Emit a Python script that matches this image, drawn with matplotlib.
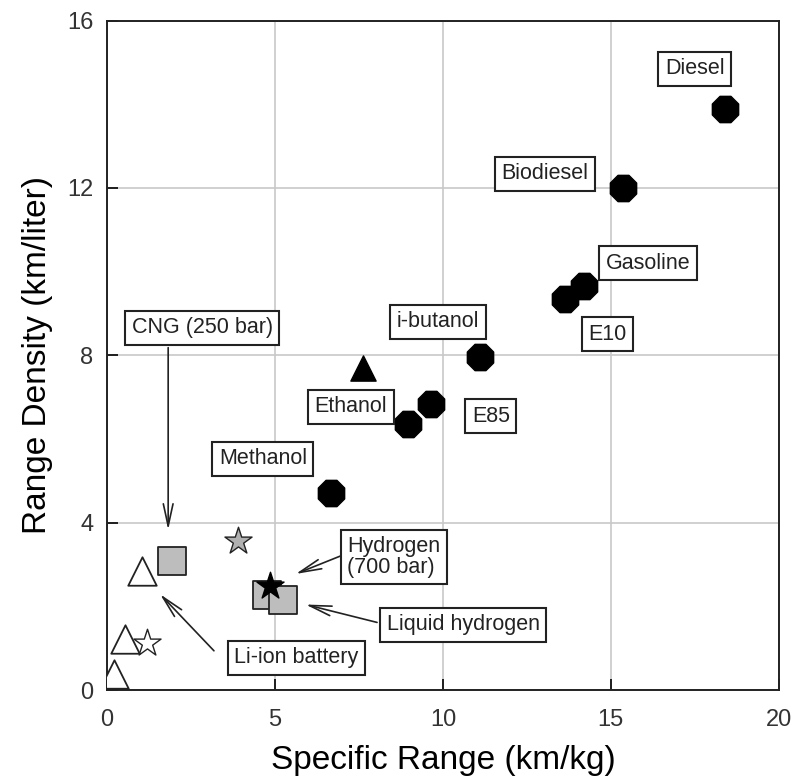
import matplotlib
matplotlib.use("Agg")
import matplotlib.pyplot as plt

plt.rcParams["font.family"] = ["Liberation Sans", "DejaVu Sans"]

# liquid fuels (filled octagons)
liquid_names = ["Diesel", "Biodiesel", "Gasoline", "E10", "i-butanol",
                "E85", "E85b", "Methanol"]
liquid_x = [18.4, 15.35, 14.2, 13.65, 11.1, 9.66, 8.97, 6.67]
liquid_y = [13.9, 11.99, 9.65, 9.35, 7.97, 6.83, 6.36, 4.72]

ethanol_x = [7.62]
ethanol_y = [7.7]

# battery (open triangles)
battery_x = [1.03, 0.54, 0.2]
battery_y = [2.85, 1.22, 0.38]

# gas tanks (grey squares)
tank_x = [1.92, 4.75, 5.23]
tank_y = [3.09, 2.27, 2.15]

grey_star_x = [3.9]
grey_star_y = [3.56]
black_star_x = [4.85]
black_star_y = [2.49]
open_star_x = [1.18]
open_star_y = [1.12]

# text boxes: label, x, y
box_labels = ["Diesel", "Biodiesel", "Gasoline", "E10", "i-butanol", "Ethanol",
              "E85", "Methanol", "CNG (250 bar)", "Hydrogen\n(700 bar)",
              "Liquid hydrogen", "Li-ion battery"]
box_x = [17.5, 13.04, 16.1, 14.9, 9.86, 7.26, 11.43, 4.64, 2.83, 8.54, 10.6, 5.63]
box_y = [14.85, 12.34, 10.2, 8.5, 8.8, 6.77, 6.55, 5.53, 8.66, 3.18, 1.56, 0.77]

# arrows: (start x, start y) -> (tip x, tip y)
arrow_from = [(1.82, 8.25), (7.28, 3.31), (8.12, 1.6), (3.24, 0.89)]
arrow_to = [(1.82, 3.76), (5.54, 2.75), (5.83, 2.06), (1.52, 2.34)]

fig = plt.figure(figsize=(7.93, 7.82), dpi=100)
ax = fig.add_axes([0.135, 0.1176, 0.847, 0.856])

ax.grid(True, color="#c8c8c8", lw=1.2, zorder=0)
ax.set_axisbelow(True)

ms = 420
ax.scatter(liquid_x, liquid_y, s=ms, marker="8", color="black", zorder=3)
ax.scatter(ethanol_x, ethanol_y, s=330, marker="^", color="black", zorder=3)
ax.scatter(battery_x, battery_y, s=420, marker="^", facecolor="white",
           edgecolor="#222222", lw=1.3, zorder=3)
ax.scatter(tank_x, tank_y, s=380, marker="s", facecolor="#bdbdbd",
           edgecolor="#222222", lw=1.3, zorder=3)
ax.scatter(grey_star_x, grey_star_y, s=420, marker="*", facecolor="#b0b0b0",
           edgecolor="#222222", lw=1.0, zorder=3)
ax.scatter(open_star_x, open_star_y, s=420, marker="*", facecolor="white",
           edgecolor="#222222", lw=1.0, zorder=3)
ax.scatter(black_star_x, black_star_y, s=420, marker="*", color="black",
           zorder=4)

for lab, x, y in zip(box_labels, box_x, box_y):
    ax.text(x, y, lab, ha="center", va="center", fontsize=15.5, color="#222222",
            linespacing=1.0, multialignment="left",
            bbox=dict(boxstyle="square,pad=0.3", fc="white", ec="#222222",
                      lw=1.5), zorder=5)

for (x0, y0), (x1, y1) in zip(arrow_from, arrow_to):
    ax.annotate("", xy=(x1, y1), xytext=(x0, y0),
                arrowprops=dict(arrowstyle="->,head_length=1.6,head_width=0.35",
                                color="#222222", lw=1.2), zorder=4)

ax.set_xlim(0, 20)
ax.set_ylim(0, 16)
ax.set_xticks([0, 5, 10, 15, 20])
ax.set_yticks([0, 4, 8, 12, 16])
ax.tick_params(direction="in", length=8, width=1.2, labelsize=17,
               labelcolor="#333333")
ax.tick_params(axis="x", pad=14)
ax.tick_params(axis="y", pad=10)
for sp in ax.spines.values():
    sp.set_linewidth(1.4)
    sp.set_color("#222222")

ax.set_xlabel("Specific Range (km/kg)", fontsize=24, labelpad=10)
ax.set_ylabel("Range Density (km/liter)", fontsize=24, labelpad=10)

fig.savefig("out.png", dpi=100)
